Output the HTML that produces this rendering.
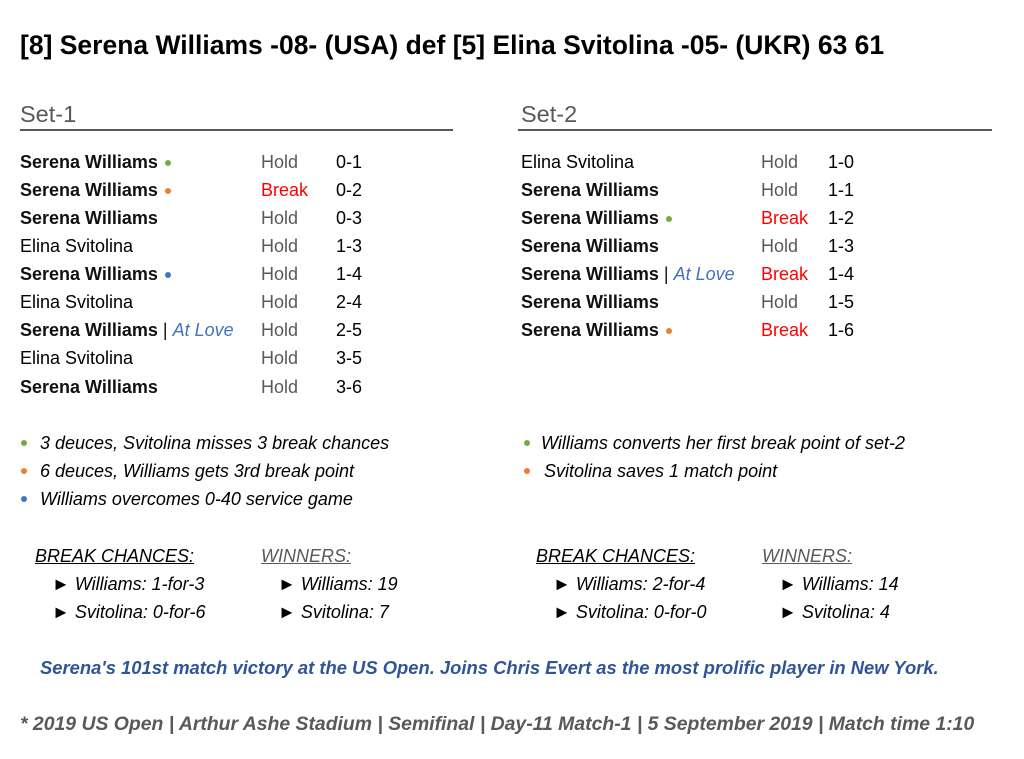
<!DOCTYPE html>
<html><head><meta charset="utf-8"><style>
body{margin:0;width:1024px;height:759px;background:#fff;font-family:"Liberation Sans",sans-serif;position:relative;overflow:hidden}
.t{position:absolute;white-space:nowrap;line-height:22px;font-size:18px;color:#000}
.b{font-weight:bold;color:#111}
.g{color:#595959}
.r{color:#f00}
.i{font-style:italic}
.love{color:#4472c4;font-style:italic;font-weight:normal}
.dot{display:inline-block;width:6px;height:6px;border-radius:50%;vertical-align:middle;margin-left:2px}
.bd{position:absolute;width:6px;height:6px;border-radius:50%}
.hr{position:absolute;height:2px;background:#595959;top:129px}
.u{text-decoration:underline}
</style></head><body>
<div class="t b" style="left:20px;top:30px;font-size:26.5px;line-height:30px;color:#000">[8] Serena Williams -08- (USA) def [5] Elina Svitolina -05- (UKR) 63 61</div>

<div class="t g" style="left:20px;top:100px;font-size:23.5px;line-height:28px">Set-1</div>
<div class="hr" style="left:20px;width:433px"></div>
<div class="t g" style="left:521px;top:100px;font-size:23.5px;line-height:28px">Set-2</div>
<div class="hr" style="left:518px;width:474px"></div>

<!-- Set 1 -->
<div class="t b" style="left:20px;top:151px">Serena Williams <span class="dot" style="background:#70ad47"></span></div><div class="t g" style="left:261px;top:151px">Hold</div><div class="t" style="left:336px;top:151px">0-1</div>
<div class="t b" style="left:20px;top:179px">Serena Williams <span class="dot" style="background:#ed7d31"></span></div><div class="t r" style="left:261px;top:179px">Break</div><div class="t" style="left:336px;top:179px">0-2</div>
<div class="t b" style="left:20px;top:207px">Serena Williams</div><div class="t g" style="left:261px;top:207px">Hold</div><div class="t" style="left:336px;top:207px">0-3</div>
<div class="t" style="left:20px;top:235px">Elina Svitolina</div><div class="t g" style="left:261px;top:235px">Hold</div><div class="t" style="left:336px;top:235px">1-3</div>
<div class="t b" style="left:20px;top:263px">Serena Williams <span class="dot" style="background:#4472c4"></span></div><div class="t g" style="left:261px;top:263px">Hold</div><div class="t" style="left:336px;top:263px">1-4</div>
<div class="t" style="left:20px;top:291px">Elina Svitolina</div><div class="t g" style="left:261px;top:291px">Hold</div><div class="t" style="left:336px;top:291px">2-4</div>
<div class="t b" style="left:20px;top:319px">Serena Williams <span style="font-weight:normal">|</span> <span class="love">At Love</span></div><div class="t g" style="left:261px;top:319px">Hold</div><div class="t" style="left:336px;top:319px">2-5</div>
<div class="t" style="left:20px;top:347px">Elina Svitolina</div><div class="t g" style="left:261px;top:347px">Hold</div><div class="t" style="left:336px;top:347px">3-5</div>
<div class="t b" style="left:20px;top:376px">Serena Williams</div><div class="t g" style="left:261px;top:376px">Hold</div><div class="t" style="left:336px;top:376px">3-6</div>

<!-- Set 2 -->
<div class="t" style="left:521px;top:151px">Elina Svitolina</div><div class="t g" style="left:761px;top:151px">Hold</div><div class="t" style="left:828px;top:151px">1-0</div>
<div class="t b" style="left:521px;top:179px">Serena Williams</div><div class="t g" style="left:761px;top:179px">Hold</div><div class="t" style="left:828px;top:179px">1-1</div>
<div class="t b" style="left:521px;top:207px">Serena Williams <span class="dot" style="background:#70ad47"></span></div><div class="t r" style="left:761px;top:207px">Break</div><div class="t" style="left:828px;top:207px">1-2</div>
<div class="t b" style="left:521px;top:235px">Serena Williams</div><div class="t g" style="left:761px;top:235px">Hold</div><div class="t" style="left:828px;top:235px">1-3</div>
<div class="t b" style="left:521px;top:263px">Serena Williams <span style="font-weight:normal">|</span> <span class="love">At Love</span></div><div class="t r" style="left:761px;top:263px">Break</div><div class="t" style="left:828px;top:263px">1-4</div>
<div class="t b" style="left:521px;top:291px">Serena Williams</div><div class="t g" style="left:761px;top:291px">Hold</div><div class="t" style="left:828px;top:291px">1-5</div>
<div class="t b" style="left:521px;top:319px">Serena Williams <span class="dot" style="background:#ed7d31"></span></div><div class="t r" style="left:761px;top:319px">Break</div><div class="t" style="left:828px;top:319px">1-6</div>

<!-- notes -->
<div class="bd" style="left:21px;top:440px;background:#70ad47"></div><div class="t i" style="left:40px;top:432px">3 deuces, Svitolina misses 3 break chances</div>
<div class="bd" style="left:21px;top:468px;background:#ed7d31"></div><div class="t i" style="left:40px;top:460px">6 deuces, Williams gets 3rd break point</div>
<div class="bd" style="left:21px;top:496px;background:#4472c4"></div><div class="t i" style="left:40px;top:488px">Williams overcomes 0-40 service game</div>
<div class="bd" style="left:524px;top:440px;background:#70ad47"></div><div class="t i" style="left:541px;top:432px">Williams converts her first break point of set-2</div>
<div class="bd" style="left:524px;top:468px;background:#ed7d31"></div><div class="t i" style="left:544px;top:460px">Svitolina saves 1 match point</div>

<!-- stats -->
<div class="t i u" style="left:35px;top:545px">BREAK CHANCES:</div>
<div class="t i" style="left:52px;top:573px">► Williams: 1-for-3</div>
<div class="t i" style="left:52px;top:601px">► Svitolina: 0-for-6</div>
<div class="t i u g" style="left:261px;top:545px">WINNERS:</div>
<div class="t i" style="left:278px;top:573px">► Williams: 19</div>
<div class="t i" style="left:278px;top:601px">► Svitolina: 7</div>
<div class="t i u" style="left:536px;top:545px">BREAK CHANCES:</div>
<div class="t i" style="left:553px;top:573px">► Williams: 2-for-4</div>
<div class="t i" style="left:553px;top:601px">► Svitolina: 0-for-0</div>
<div class="t i u g" style="left:762px;top:545px">WINNERS:</div>
<div class="t i" style="left:779px;top:573px">► Williams: 14</div>
<div class="t i" style="left:779px;top:601px">► Svitolina: 4</div>

<div class="t i b" style="left:40px;top:657px;color:#2f5597;font-size:18.4px">Serena's 101st match victory at the US Open. Joins Chris Evert as the most prolific player in New York.</div>
<div class="t i b" style="left:20px;top:713px;color:#595959;font-size:19.4px">* 2019 US Open | Arthur Ashe Stadium | Semifinal | Day-11 Match-1 | 5 September 2019 | Match time 1:10</div>
</body></html>
